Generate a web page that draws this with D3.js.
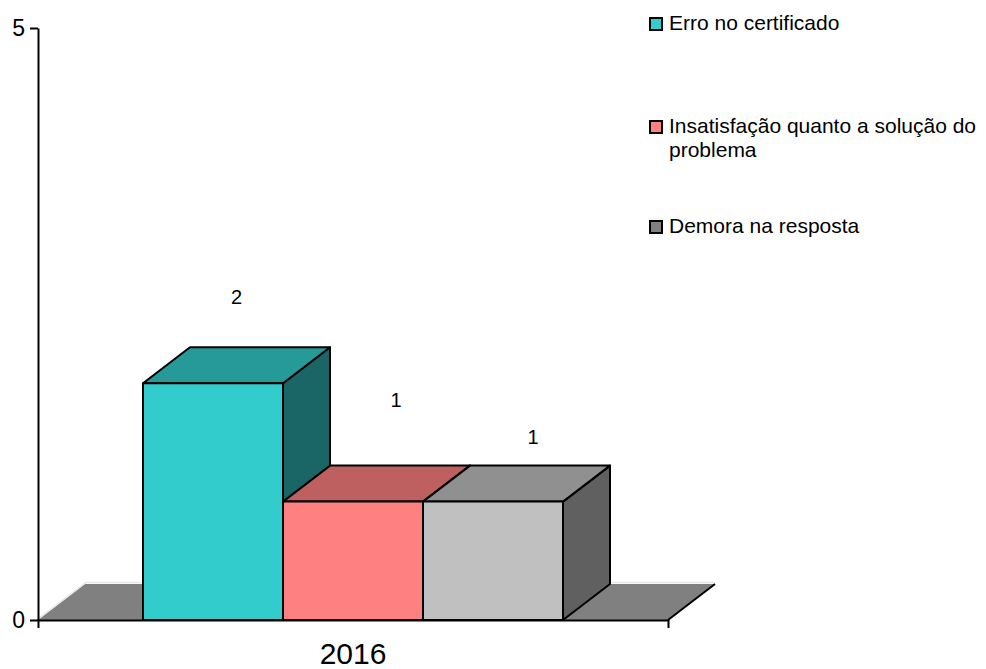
<!DOCTYPE html>
<html>
<head>
<meta charset="utf-8">
<script src="https://cdn.jsdelivr.net/npm/d3@7"></script>
<style>
  body { margin: 0; background: #fff; }
  svg text { font-family: "Liberation Sans", Arial, sans-serif; fill: #000; }
</style>
</head>
<body>
<svg id="chart" width="986" height="669"></svg>
<script>
// data
var categories = ['2016'];
var seriesNames = ['Erro no certificado', 'Insatisfação quanto a solução do problema', 'Demora na resposta'];
var seriesValues = [2, 1, 1];
var yTicks = [0, 5];

// colours per series: front, top, side, legend
var frontColors = ['#33CCCC', '#FF8080', '#C0C0C0'];
var topColors = ['#269999', '#BF6060', '#909090'];
var sideColors = ['#1A6666', '#804040', '#606060'];
var legendColors = ['#33CCCC', '#FF8080', '#808080'];
// where the value labels sit, relative to the top of the front face
var labelShift = [[0, -79], [19.5, -95], [16.5, -58]];

var margin = {left: 38, top: 28, bottom: 49},
    plotW = 630,
    plotH = 669 - margin.top - margin.bottom;
var depth = {dx: 47, dy: -36};

var svg = d3.select('#chart');
var g = svg.append('g').attr('transform', 'translate(' + margin.left + ',' + margin.top + ')');

var x = d3.scaleBand().domain(categories).range([0, plotW]).paddingInner(1 / 3).paddingOuter(1 / 6);
var xs = d3.scaleBand().domain(seriesNames).range([0, x.bandwidth()]);
var y = d3.scaleLinear().domain([0, 5]).range([plotH, 0]);

// floor
var floorPts = [[0, plotH], [depth.dx, plotH + depth.dy], [plotW + depth.dx, plotH + depth.dy], [plotW, plotH]];
g.append('polygon')
    .attr('points', floorPts.map(function(p) { return p.join(','); }).join(' '))
    .attr('fill', '#808080');
// light highlight on back/left edge of the floor
g.append('path')
    .attr('d', 'M1,' + (plotH - 2) + 'L' + (depth.dx + 1) + ',' + (plotH + depth.dy - 1.5) + 'H' + (plotW + depth.dx))
    .attr('fill', 'none').attr('stroke', '#e6e6e6').attr('stroke-width', 1.5);
g.append('line')
    .attr('x1', plotW).attr('y1', plotH)
    .attr('x2', plotW + depth.dx).attr('y2', plotH + depth.dy)
    .attr('stroke', '#000').attr('stroke-width', 2);

// bars, drawn left to right so later faces cover earlier side faces
categories.forEach(function(cat) {
  seriesNames.forEach(function(name, i) {
    var x0 = x(cat) + xs(name), x1 = x0 + xs.bandwidth();
    var yt = y(seriesValues[i]), yb = y(0);
    var bar = g.append('g')
        .attr('stroke', '#000').attr('stroke-width', 2).attr('stroke-linejoin', 'round');
    // side
    bar.append('polygon')
        .attr('points', [[x1, yb], [x1 + depth.dx, yb + depth.dy], [x1 + depth.dx, yt + depth.dy], [x1, yt]].join(' '))
        .attr('fill', sideColors[i]);
    // top
    bar.append('polygon')
        .attr('points', [[x0, yt], [x0 + depth.dx, yt + depth.dy], [x1 + depth.dx, yt + depth.dy], [x1, yt]].join(' '))
        .attr('fill', topColors[i]);
    // front
    bar.append('rect')
        .attr('x', x0).attr('y', yt)
        .attr('width', x1 - x0).attr('height', yb - yt)
        .attr('fill', frontColors[i]);
    // value label
    g.append('text')
        .attr('x', (x0 + x1) / 2 + depth.dx / 2 + labelShift[i][0])
        .attr('y', yt + labelShift[i][1])
        .attr('text-anchor', 'middle')
        .style('font-size', '20px')
        .text(seriesValues[i]);
  });
});

// axes
var yAxis = g.append('g')
    .call(d3.axisLeft(y).tickValues(yTicks).tickFormat(d3.format('d'))
      .tickSize(8).tickSizeOuter(0).tickPadding(5));
yAxis.selectAll('text').style('font-size', '23px');

var xAxis = g.append('g')
    .attr('transform', 'translate(0,' + plotH + ')')
    .call(d3.axisBottom(x).tickSize(0).tickSizeOuter(8).tickPadding(23));
xAxis.selectAll('text').style('font-size', '30px');

svg.selectAll('.domain, .tick line').attr('stroke', '#000').attr('stroke-width', 2);

// legend
var legendRows = [
  {name: seriesNames[0], lines: ['Erro no certificado'], y: 30},
  {name: seriesNames[1], lines: ['Insatisfação quanto a solução do', 'problema'], y: 133},
  {name: seriesNames[2], lines: ['Demora na resposta'], y: 233}
];
var legend = svg.append('g');
legendRows.forEach(function(row, i) {
  legend.append('rect')
      .attr('x', 650).attr('y', row.y - 12)
      .attr('width', 12).attr('height', 12)
      .attr('fill', legendColors[i])
      .attr('stroke', '#000').attr('stroke-width', 2);
  var t = legend.append('text')
      .attr('x', 669).attr('y', row.y)
      .style('font-size', '21px');
  row.lines.forEach(function(line, j) {
    t.append('tspan').attr('x', 669).attr('dy', j === 0 ? 0 : 24).text(line);
  });
});
</script>
</body>
</html>
